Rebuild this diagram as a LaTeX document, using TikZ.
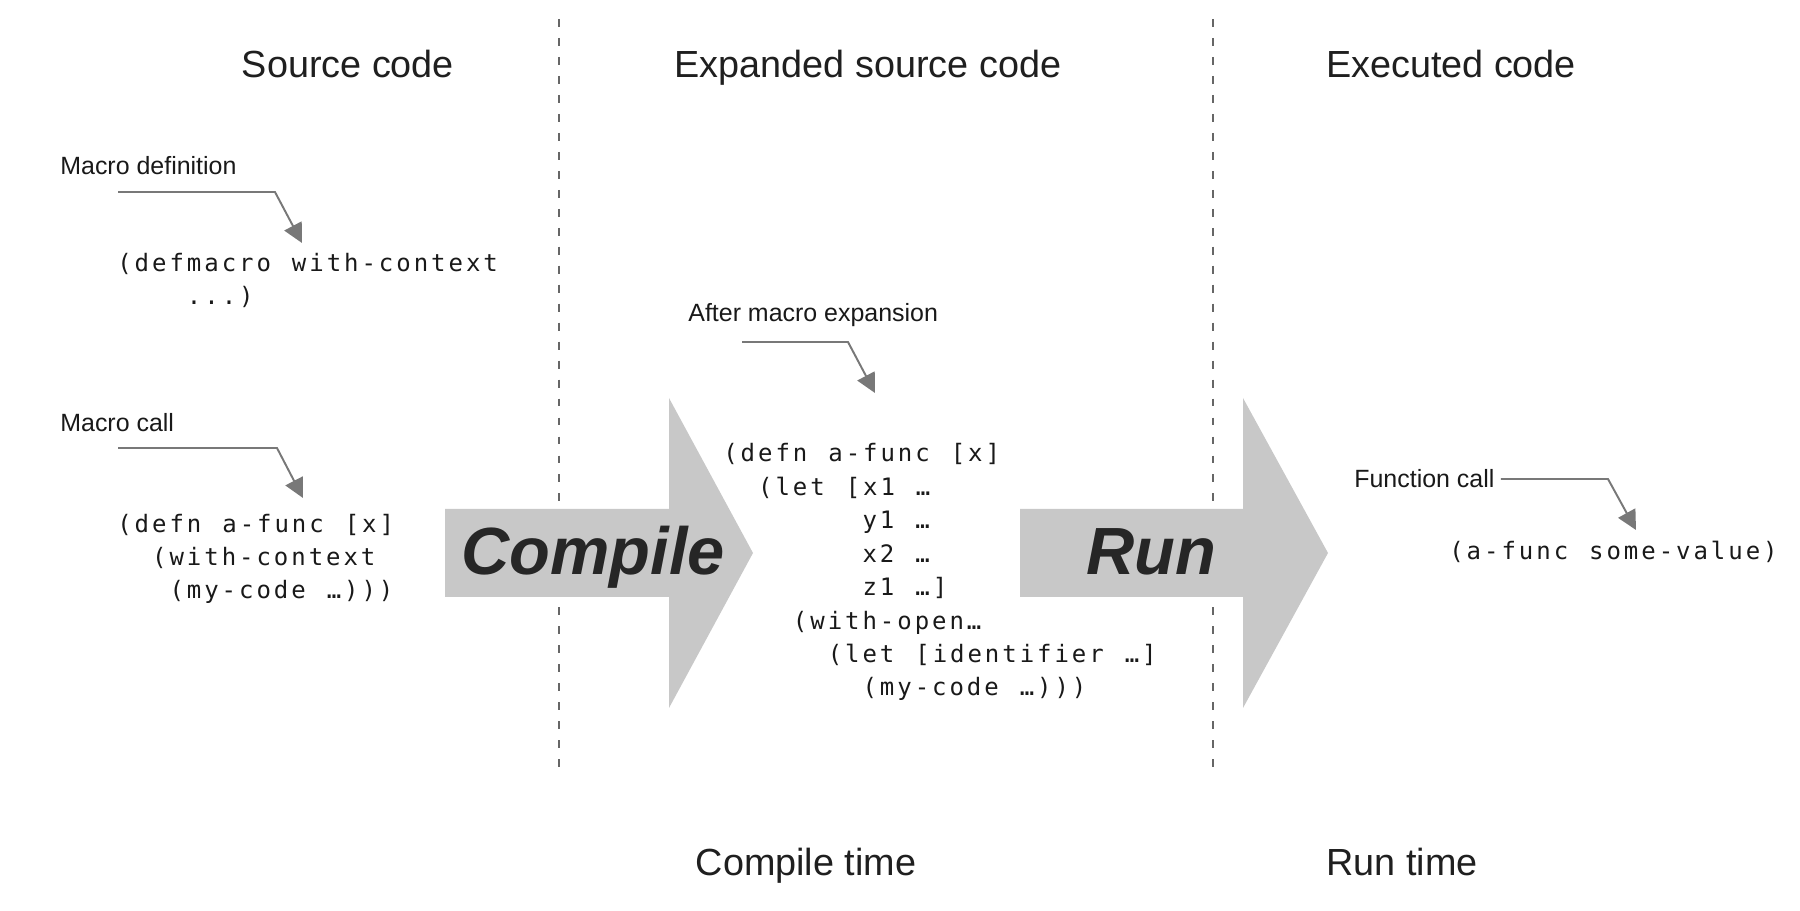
\documentclass[tikz,border=0pt]{standalone}
\usepackage{fontspec}
\setmainfont{Liberation Sans}
\newfontfamily\codefont{DejaVu Sans Mono}[LetterSpace=12.3,WordSpace=1.204]
\usetikzlibrary{arrows.meta}
\definecolor{arrowgray}{RGB}{200,200,200}
\definecolor{linegray}{RGB}{120,120,120}
\definecolor{textdark}{RGB}{38,38,38}
\newlength\codecw
\setlength\codecw{3.48mm}
\newcommand\ind[1]{\hspace*{#1\codecw}}

\begin{document}
\begin{tikzpicture}[x=0.2mm, y=-0.2mm,
    heading/.style={anchor=base, inner sep=0pt, font=\fontsize{21.5}{26}\selectfont, text=black!88},
    note/.style={anchor=base west, inner sep=0pt, font=\fontsize{14.2}{17}\selectfont, text=black!90},
    codeblock/.style={anchor=base west, inner sep=0pt, align=left, font=\codefont\fontsize{13.66}{19.06}\selectfont, text=black!90},
    stage/.style={anchor=base, inner sep=0pt, font=\fontsize{38}{40}\selectfont\bfseries\itshape, text=textdark},
    callout/.style={draw=linegray, line width=1.1pt, -{Triangle[length=11pt, width=11pt]}},
    divider/.style={draw=black!60, line width=0.8pt, dash pattern=on 4.5pt off 6.3pt},
    bigarrow/.style={fill=arrowgray}]
    \useasboundingbox (0,0) rectangle (1800,911);

    % column headings and time labels
    \node[heading] (src) at (348,78) {Source code};
    \node[heading] (exp) at (868,78) {Expanded source code};
    \node[heading] (exe) at (1451,78) {Executed code};
    \node[heading] (ctime) at (806,875) {Compile time};
    \node[heading] (rtime) at (1402,875) {Run time};

    % dividers
    \draw[divider] (559,19) -- (559,771);
    \draw[divider] (1213,19) -- (1213,771);

    % big arrows
    \fill[bigarrow] (445,509) -- (669,509) -- (669,398) -- (753,553) -- (669,708) -- (669,597) -- (445,597) -- cycle;
    \fill[bigarrow] (1020,509) -- (1243,509) -- (1243,398) -- (1328,553) -- (1243,708) -- (1243,597) -- (1020,597) -- cycle;
    \node[stage] (compile) at (593,575) {Compile};
    \node[stage] (run) at (1151,575) {Run};

    % source code (base = last line)
    \node[note] (mdef) at (60,175) {Macro definition};
    \node[codeblock] (defmacro) at (117,305) {(defmacro with-context\\ \ind{4}...)};
    \node[note] (mcall) at (60,432) {Macro call};
    \node[codeblock] (defn) at (117,599) {(defn a-func [x]\\ \ind{2}(with-context\\ \ind{3}(my-code …)))};

    % expanded code
    \node[note] (mexp) at (688,322) {After macro expansion};
    \node[codeblock] (expanded) at (723,696) {(defn a-func [x]\\ \ind{2}(let [x1 …\\ \ind{8}y1 …\\ \ind{8}x2 …\\ \ind{8}z1 …]\\ \ind{4}(with-open…\\ \ind{6}(let [identifier …]\\ \ind{8}(my-code …)))};

    % executed code
    \node[note] (fcall) at (1354,488) {Function call};
    \node[codeblock] (apply) at (1449,560) {(a-func some-value)};

    % callouts
    \coordinate (defa) at (118,192);
    \coordinate (defb) at (275,192);
    \coordinate (deftip) at (302,243);
    \coordinate (calla) at (118,448);
    \coordinate (callb) at (277,448);
    \coordinate (calltip) at (303,498);
    \coordinate (expa) at (742,342);
    \coordinate (expb) at (848,342);
    \coordinate (exptip) at (875,393);
    \coordinate (funb) at (1608,479);
    \coordinate (funtip) at (1636,530);
    \draw[callout] (defa) -- (defb) -- (deftip);
    \draw[callout] (calla) -- (callb) -- (calltip);
    \draw[callout] (expa) -- (expb) -- (exptip);
    \draw[callout] ([xshift=1.2mm]fcall.east |- funb) -- (funb) -- (funtip);
\end{tikzpicture}
\end{document}
